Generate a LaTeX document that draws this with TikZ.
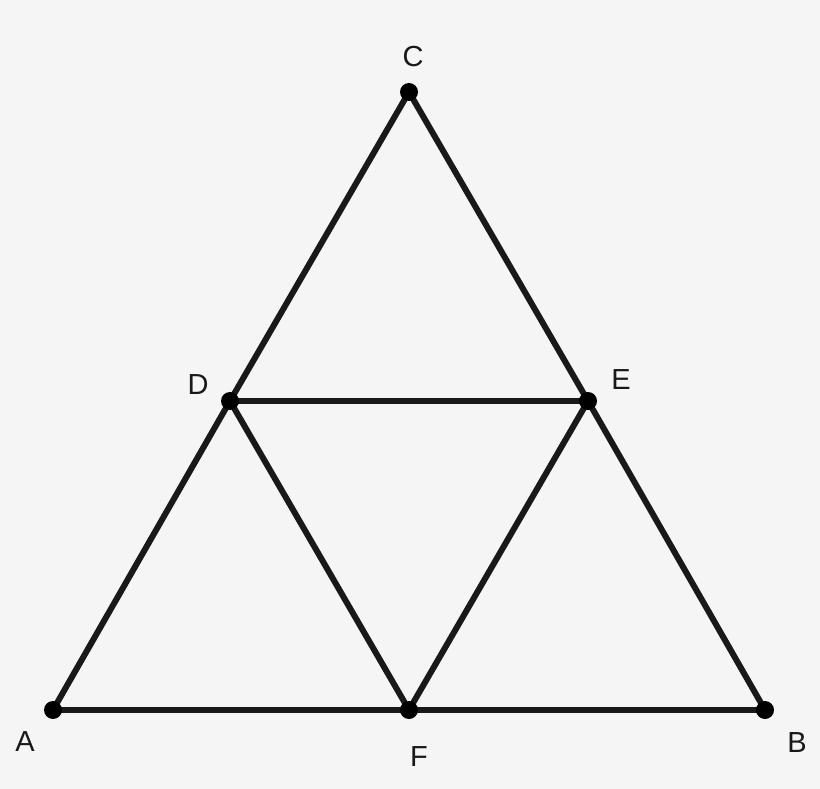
\documentclass[tikz,border=0pt]{standalone}
\usepackage{fontspec}
\setmainfont{Liberation Sans}
\begin{document}
\begin{tikzpicture}[x=1pt,y=-1pt,
  seg/.style={line width=6pt,draw=black!90,line cap=round},
  pt/.style={circle,fill=black,inner sep=0pt,minimum size=18pt},
  lab/.style={font=\fontsize{29}{29}\selectfont,text=black!90,inner sep=0pt}]
\fill[black!4] (0,0) rectangle (820,789);
\useasboundingbox (0,0) rectangle (820,789);
\coordinate (A) at (53,710);
\coordinate (B) at (765,710);
\coordinate (C) at (409,92);
\coordinate (D) at (230,401);
\coordinate (E) at (588,401);
\coordinate (F) at (409,710);
\draw[seg] (A) -- (F);
\draw[seg] (F) -- (B);
\draw[seg] (B) -- (E);
\draw[seg] (E) -- (C);
\draw[seg] (C) -- (D);
\draw[seg] (D) -- (A);
\draw[seg] (D) -- (E);
\draw[seg] (D) -- (F);
\draw[seg] (E) -- (F);
\foreach \p in {A,B,C,D,E,F} \node[pt] (n\p) at (\p) {};
\node[lab] (lA) at (25,742) {A};
\node[lab] (lB) at (797,743) {B};
\node[lab] (lC) at (413,57) {C};
\node[lab] (lD) at (198,385) {D};
\node[lab] (lE) at (621,380) {E};
\node[lab] (lF) at (419,757) {F};
\end{tikzpicture}
\end{document}
